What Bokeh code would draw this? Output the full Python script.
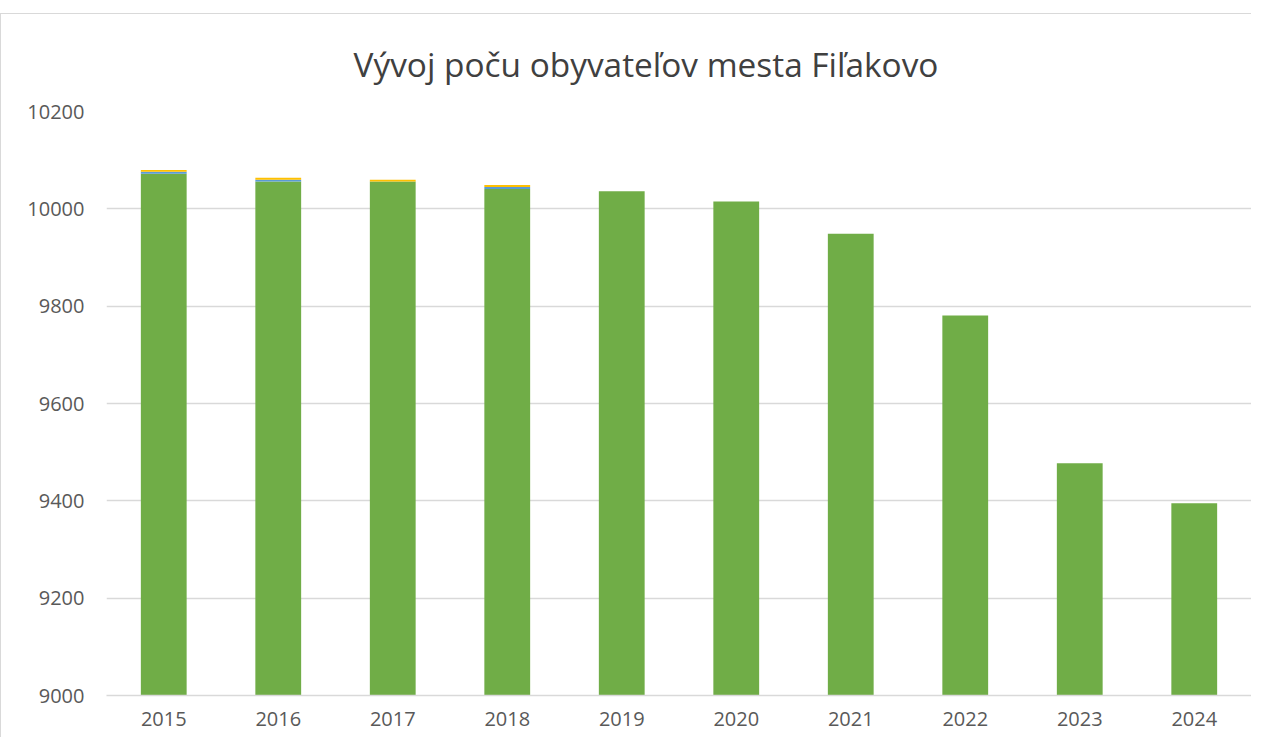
from bokeh.plotting import figure
from bokeh.models import FactorRange, Range1d, SingleIntervalTicker
from bokeh.embed import file_html
from bokeh.resources import INLINE

years = ["2015", "2016", "2017", "2018", "2019", "2020", "2021", "2022", "2023", "2024"]
obyvatelia = [10072, 10056, 10056, 10041, 10036, 10015, 9949, 9781, 9477, 9395]
seria_modra = [4, 4, 0, 4, 0, 0, 0, 0, 0, 0]
seria_zlta = [4, 4, 4, 4, 0, 0, 0, 0, 0, 0]
title_text = "Vývoj poču obyvateľov mesta Fiľakovo"

W, H = 1251, 724
LEFT, RIGHT, TOP, BOTTOM = 105, 1, 96, 43
p = figure(x_range=FactorRange(*years, range_padding=0), y_range=Range1d(9000, 10200),
           width=W, height=H, output_backend="svg", toolbar_location=None,
           min_border_left=LEFT, min_border_right=RIGHT, min_border_top=TOP, min_border_bottom=BOTTOM,
           title=title_text)
p.styles = {"border-top": "1px solid #d9d9d9", "border-left": "1px solid #d9d9d9", "margin-top": "13px"}

data = dict(x=years, g=obyvatelia, b=seria_modra, y=seria_zlta)
p.vbar_stack(["g", "b", "y"], x="x", width=0.4, source=data,
             color=["#70AD47", "#5B9BD5", "#FFC000"], line_color=None)

p.title.align = "left"
p.title.offset = 247
p.title.standoff = 49
p.title.text_font = "Open Sans"
p.title.text_font_size = "33.4px"
p.title.text_font_style = "normal"
p.title.text_color = "#404040"

p.outline_line_color = None
p.xgrid.grid_line_color = None
p.ygrid.grid_line_color = "#d9d9d9"
p.ygrid.grid_line_width = 1.3
p.yaxis.ticker = SingleIntervalTicker(interval=200)
p.yaxis.axis_line_color = None
p.yaxis.major_tick_line_color = None
p.yaxis.minor_tick_line_color = None
p.yaxis.major_label_standoff = 16
for ax in (p.xaxis, p.yaxis):
    ax.major_label_text_font = "Open Sans"
    ax.major_label_text_font_size = "20px"
    ax.major_label_text_color = "#595959"
p.xaxis.axis_line_color = "#d9d9d9"
p.xaxis.axis_line_width = 1.3
p.xaxis.major_tick_line_color = None
p.xaxis.minor_tick_line_color = None
p.xaxis.major_label_standoff = 10

open("out.html", "w").write(file_html(p, INLINE))
